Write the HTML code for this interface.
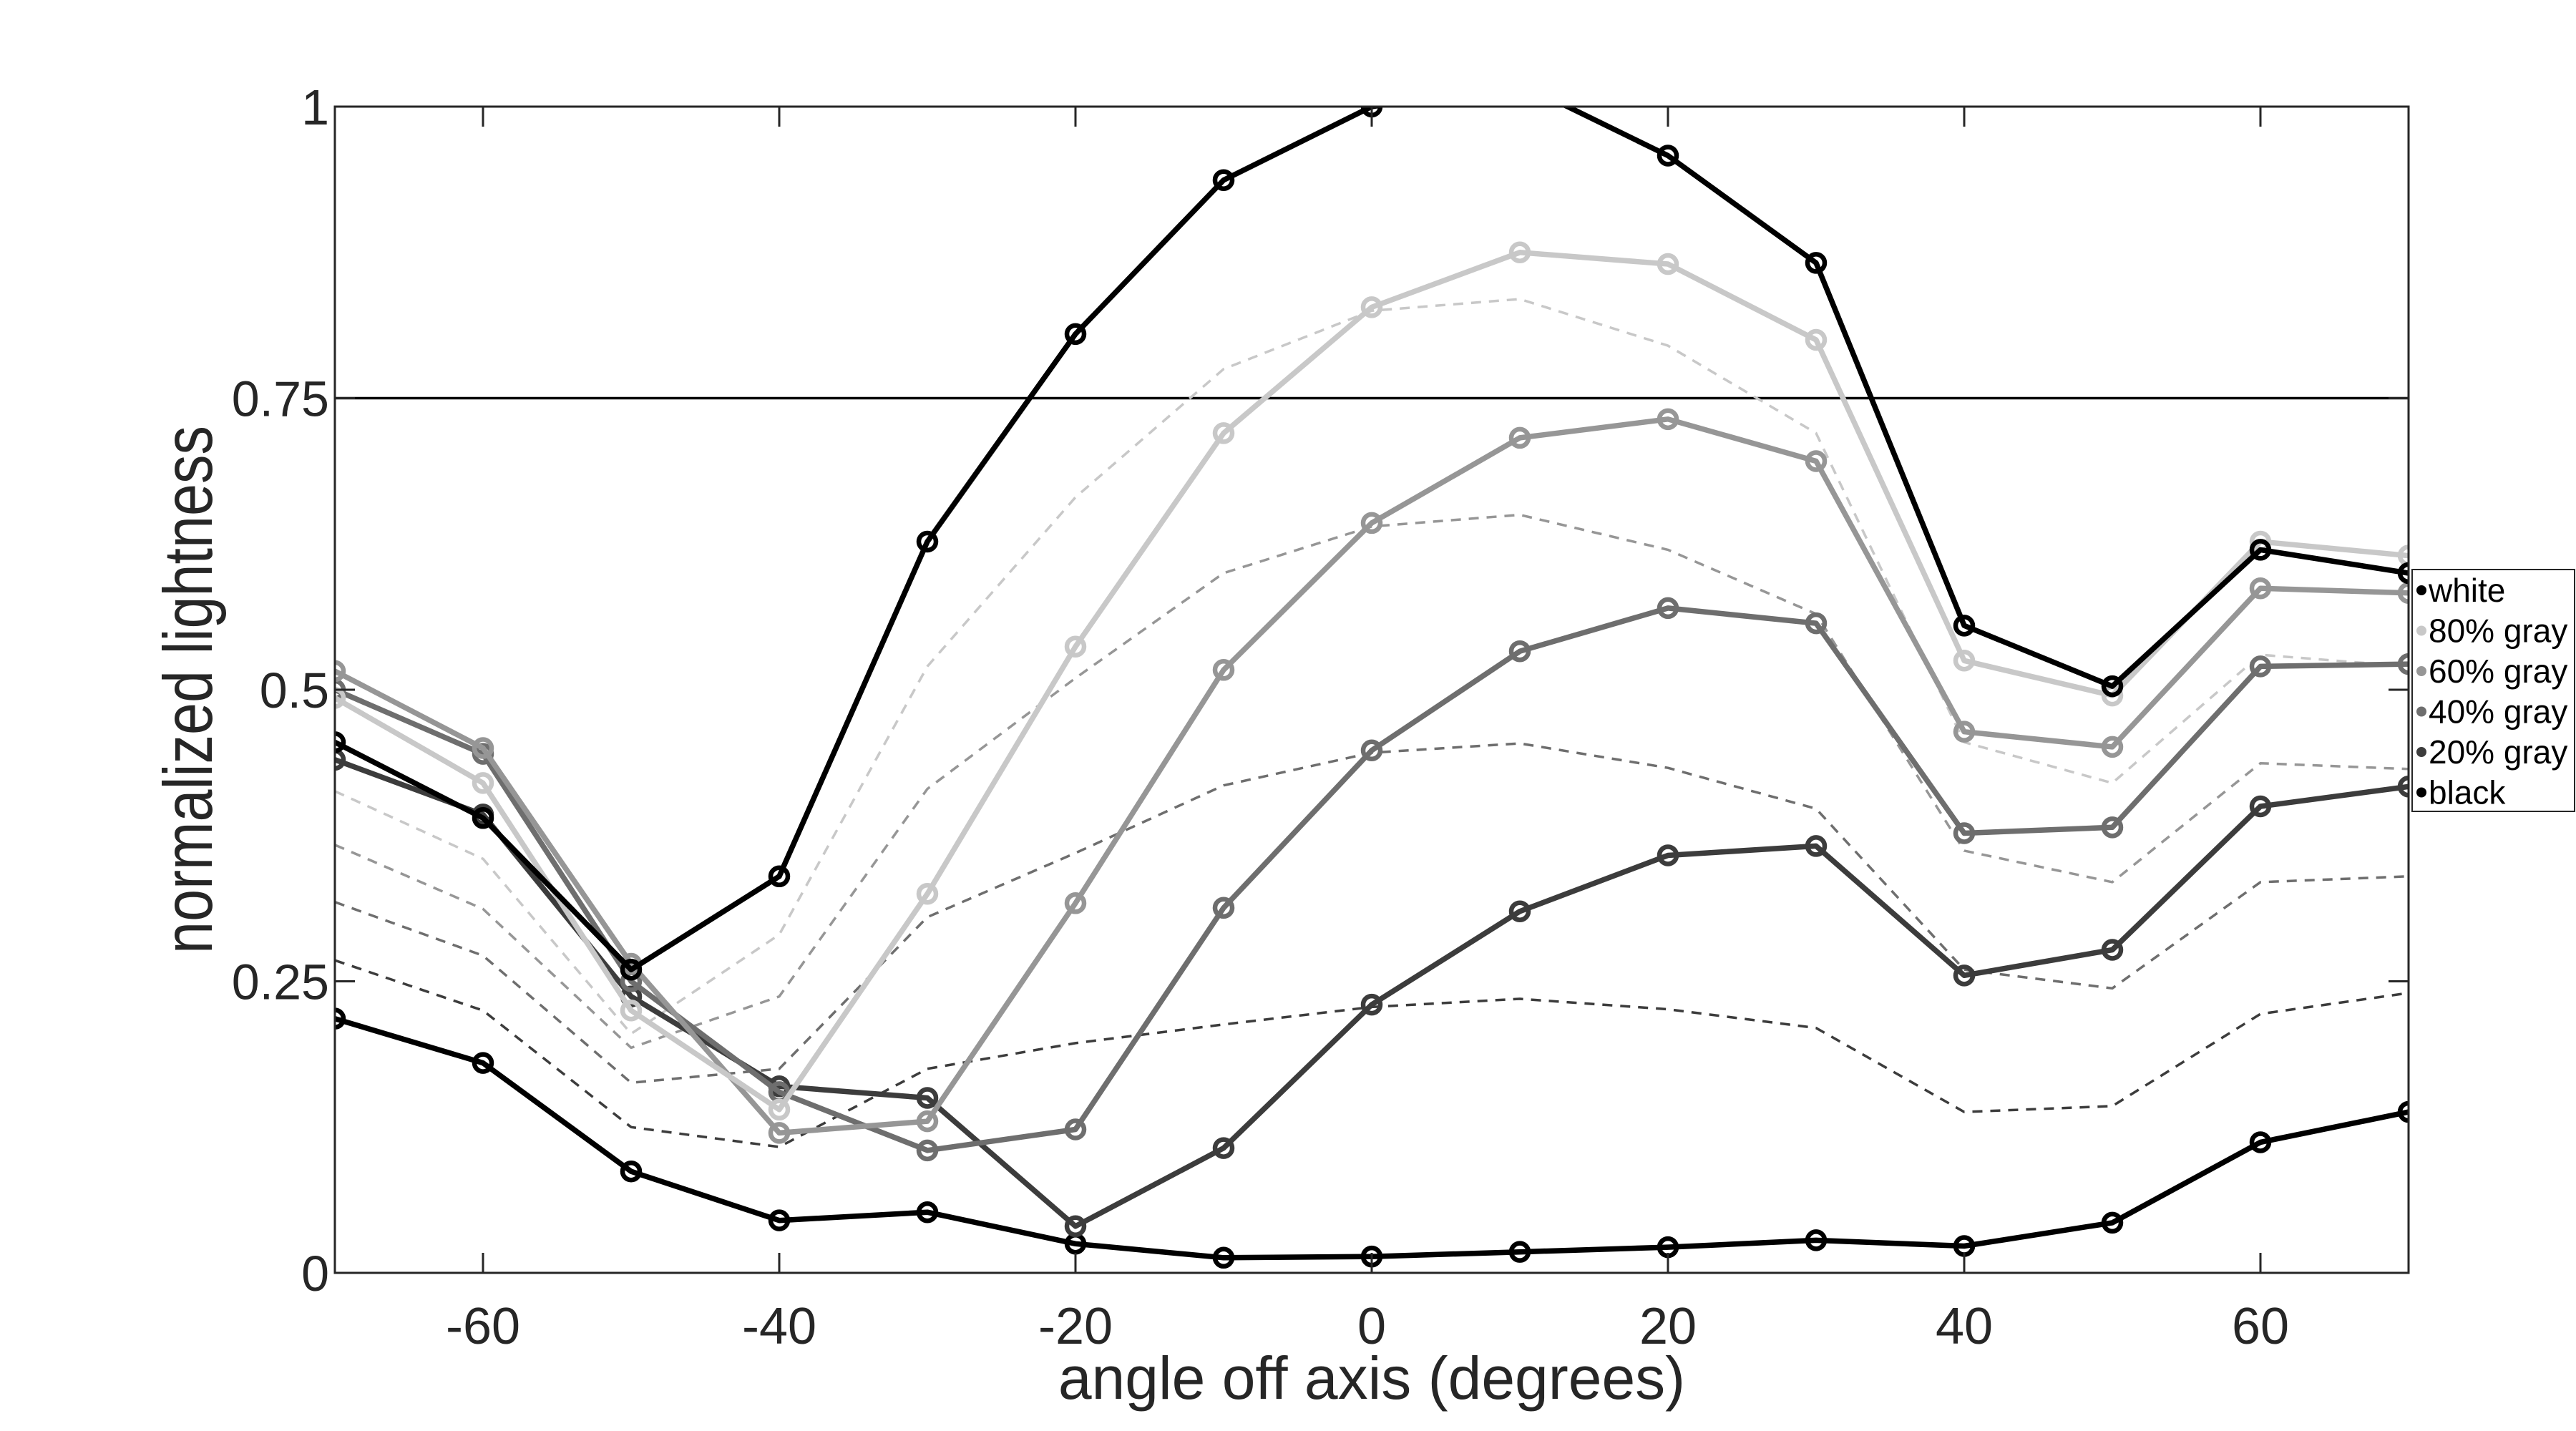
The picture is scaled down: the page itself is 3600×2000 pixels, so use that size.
<!DOCTYPE html>
<html><head><meta charset="utf-8"><style>
html,body{margin:0;padding:0;background:#fff}
svg{display:block}
text{font-family:"Liberation Sans",sans-serif}
</style></head><body>
<svg id="chart" width="3600" height="2000" viewBox="0 0 3600 2000" xmlns="http://www.w3.org/2000/svg">
<rect width="3600" height="2000" fill="#fff"/>
<g id="plot"></g>
</svg>
<script>
const angles = [-70,-60,-50,-40,-30,-20,-10,0,10,20,30,40,50,60,70];
const xTicks = [-60,-40,-20,0,20,40,60];
const yTicks = [0,0.25,0.5,0.75,1];
const yTickLabels = ["0","0.25","0.5","0.75","1"];
const seriesNames = ["white","80% gray","60% gray","40% gray","20% gray","black"];
const whiteVals = [0.455,0.39,0.26,0.34,0.627,0.805,0.937,1.0,1.02,0.958,0.866,0.555,0.503,0.62,0.60];
const gray80Vals = [0.493,0.42,0.225,0.14,0.325,0.537,0.72,0.828,0.875,0.865,0.80,0.525,0.495,0.627,0.615];
const gray60Vals = [0.516,0.45,0.265,0.12,0.13,0.317,0.517,0.643,0.716,0.732,0.696,0.464,0.451,0.587,0.583];
const gray40Vals = [0.50,0.445,0.25,0.155,0.105,0.123,0.313,0.448,0.533,0.57,0.557,0.377,0.382,0.52,0.522];
const gray20Vals = [0.44,0.393,0.237,0.16,0.15,0.04,0.107,0.23,0.31,0.358,0.366,0.255,0.277,0.40,0.417];
const blackVals = [0.218,0.18,0.087,0.045,0.052,0.025,0.013,0.014,0.018,0.022,0.028,0.023,0.043,0.112,0.138];
const dash80Vals = [0.413,0.355,0.205,0.29,0.52,0.665,0.775,0.825,0.835,0.795,0.72,0.455,0.42,0.53,0.52];
const dash60Vals = [0.367,0.312,0.193,0.237,0.415,0.51,0.60,0.64,0.65,0.62,0.565,0.362,0.335,0.437,0.432];
const dash40Vals = [0.318,0.272,0.163,0.175,0.305,0.36,0.418,0.446,0.454,0.433,0.398,0.26,0.244,0.335,0.34];
const dash20Vals = [0.268,0.225,0.125,0.108,0.175,0.197,0.213,0.228,0.235,0.226,0.21,0.138,0.143,0.222,0.24];
const refLine = 0.75;

const L=468,R=3366,T=149,B=1779;
const x=a=>L+(a+70)/140*(R-L);
const y=v=>B-v*(B-T);
const NS="http://www.w3.org/2000/svg";
const svg=document.getElementById('chart');
const plot=document.getElementById('plot');
function mk(tag,attrs,parent){const e=document.createElementNS(NS,tag);for(const k in attrs)e.setAttribute(k,attrs[k]);(parent||svg).appendChild(e);return e;}

const defs=mk('defs',{});
const cp=mk('clipPath',{id:'clip'},defs);
mk('rect',{x:L,y:T,width:R-L,height:B-T},cp);

const data=[
 {vals:dash20Vals,c:'#3c3c3c',dash:true,n:'dashed-20-gray'},
 {vals:dash40Vals,c:'#6e6e6e',dash:true,n:'dashed-40-gray'},
 {vals:dash60Vals,c:'#969696',dash:true,n:'dashed-60-gray'},
 {vals:dash80Vals,c:'#c8c8c8',dash:true,n:'dashed-80-gray'},
 {vals:blackVals,c:'#000',n:'black-line'},
 {vals:gray20Vals,c:'#3c3c3c',n:'gray20-line'},
 {vals:gray40Vals,c:'#6e6e6e',n:'gray40-line'},
 {vals:gray60Vals,c:'#969696',n:'gray60-line'},
 {vals:gray80Vals,c:'#c8c8c8',n:'gray80-line'},
 {vals:whiteVals,c:'#000',n:'white-line'}
];
const g=mk('g',{'clip-path':'url(#clip)'},plot);
const hl=mk('line',{x1:L,x2:R,y1:y(refLine),y2:y(refLine),stroke:'#000','stroke-width':3.5},g);


data.forEach(s=>{
  const pts=s.vals.map((v,i)=>x(angles[i]).toFixed(1)+','+y(v).toFixed(1)).join(' ');
  const p=mk('polyline',{points:pts,fill:'none',stroke:s.c,'stroke-width':s.dash?3.5:7.5,'stroke-dasharray':s.dash?'14 11':'none','stroke-linejoin':'round'},g);
  
  
  if(!s.dash){s.vals.forEach((v,i)=>{
    const c=mk('circle',{cx:x(angles[i]),cy:y(v),r:12,fill:'none',stroke:s.c,'stroke-width':6.5},g);
    
    
  });}
});
const box=mk('rect',{x:L,y:T,width:R-L,height:B-T,fill:'none',stroke:'#262626','stroke-width':3});


xTicks.forEach(t=>{
  mk('line',{x1:x(t),x2:x(t),y1:B,y2:B-28,stroke:'#262626','stroke-width':3});
  mk('line',{x1:x(t),x2:x(t),y1:T,y2:T+28,stroke:'#262626','stroke-width':3});
  const tx=mk('text',{x:x(t),y:1878,'text-anchor':'middle','font-size':72,fill:'#262626'});
  tx.textContent=String(t);
  
  
});
yTicks.forEach((t,i)=>{
  mk('line',{x1:L,x2:L+28,y1:y(t),y2:y(t),stroke:'#262626','stroke-width':3});
  mk('line',{x1:R,x2:R-28,y1:y(t),y2:y(t),stroke:'#262626','stroke-width':3});
  const tx=mk('text',{x:L-8,y:y(t)+25,'text-anchor':'end','font-size':70,fill:'#262626'});
  tx.textContent=yTickLabels[i];
  
  
});
const xl=mk('text',{x:1917,y:1955,'text-anchor':'middle','font-size':84,fill:'#262626'});
xl.textContent='angle off axis (degrees)';


const yl=mk('text',{x:0,y:0,'text-anchor':'middle','font-size':88,fill:'#262626',transform:'translate(296,964) rotate(-90) scale(0.92,1.1)'});
yl.textContent='normalized lightness';


const lg=mk('g',{});


mk('rect',{x:3371,y:796,width:227,height:338,fill:'#fff',stroke:'#262626','stroke-width':2},lg);
const lc=['#000','#c8c8c8','#969696','#6e6e6e','#3c3c3c','#000'];
seriesNames.forEach((n,i)=>{
  const cy=825+i*56.5;
  mk('circle',{cx:3384,cy:cy,r:7,fill:lc[i]},lg);
  const t=mk('text',{x:3394,y:cy+16,'font-size':46,fill:'#000'},lg);
  t.textContent=n;
  
  
});
</script>
</body></html>
